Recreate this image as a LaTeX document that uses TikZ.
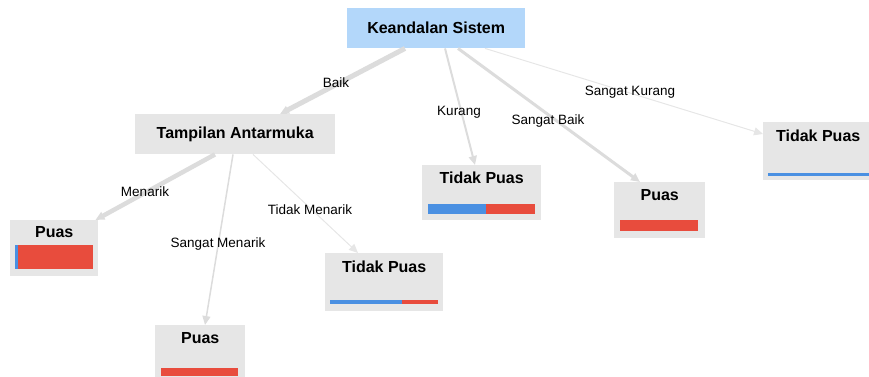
\documentclass[tikz,border=0pt]{standalone}
\usepackage{fontspec}
\setmainfont{Liberation Sans}
\usetikzlibrary{arrows.meta,calc}
\definecolor{rootblue}{HTML}{B3D7FA}
\definecolor{boxgray}{HTML}{E6E6E6}
\definecolor{barblue}{HTML}{4A90E2}
\definecolor{barred}{HTML}{E84C3D}
\definecolor{edgegray}{HTML}{DCDCDC}
\definecolor{edgelight}{HTML}{E6E6E6}
\begin{document}
\begin{tikzpicture}[x=1pt,y=-1pt,
  box/.style={draw=none,fill=boxgray,minimum width=#1,inner sep=0pt,anchor=north west},
  title/.style={font=\bfseries\fontsize{16}{16}\selectfont,inner sep=0pt},
  elabel/.style={font=\fontsize{13.5}{13.5}\selectfont,inner sep=0pt},
  conn/.style={draw=edgegray,line width=#1,-{Triangle[length=9pt,width=8pt]},shorten >=0pt},
  lightconn/.style={conn=#1,draw=edgelight}]
\useasboundingbox (0,0) rectangle (869,376);
% nodes
\node[box=178,minimum height=40,fill=rootblue] (root) at (347,8) {};
\node[title] at (root.center) {Keandalan Sistem};
\node[box=200,minimum height=40] (tam) at (135,114) {};
\node[title] at (tam.center) {Tampilan Antarmuka};
\node[box=119,minimum height=55] (tp1) at (422,165) {};
\node[title] (tp1t) at ([yshift=-13]tp1.north) {Tidak Puas};
\node[box=91,minimum height=56] (p1) at (614,182) {};
\node[title] (p1t) at ([yshift=-13]p1.north) {Puas};
\node[box=110,minimum height=58] (tp2) at (763,122) {};
\node[title] (tp2t) at ([yshift=-14]tp2.north) {Tidak Puas};
\node[box=88,minimum height=56] (p2) at (10,220) {};
\node[title] (p2t) at ([yshift=-12]p2.north) {Puas};
\node[box=118,minimum height=58] (tp3) at (325,253) {};
\node[title] (tp3t) at ([yshift=-14]tp3.north) {Tidak Puas};
\node[box=90,minimum height=55] (p3) at (155,325) {};
\node[title] (p3t) at ([yshift=-13]p3.north) {Puas};
% bars
\fill[barblue] (428,204) rectangle (486,214);
\fill[barred] (486,204) rectangle (535,214);
\fill[barred] (620,220) rectangle (698,231);
\fill[barblue] (768,173) rectangle (869,176);
\fill[barblue] (15,245) rectangle (18,269);
\fill[barred] (18,245) rectangle (93,269);
\fill[barblue] (330,300) rectangle (402,304);
\fill[barred] (402,300) rectangle (438,304);
\fill[barred] (161,368) rectangle (238,376);
% connectors
\draw[conn=5pt] ([xshift=58]root.south west) -- ([xshift=145]tam.north west);
\draw[conn=2pt] ([xshift=98]root.south west) -- ([xshift=53]tp1.north west);
\draw[conn=3pt] ([xshift=111]root.south west) -- ([xshift=26]p1.north west);
\draw[lightconn=1pt] ([xshift=138]root.south west) -- ([yshift=-12]tp2.north west);
\draw[conn=4.5pt] ([xshift=80]tam.south west) -- ([xshift=-3]p2.north east);
\draw[conn=1.5pt] ([xshift=98]tam.south west) -- ([xshift=50]p3.north west);
\draw[lightconn=1pt] ([xshift=118]tam.south west) -- ([xshift=33]tp3.north west);
% labels
\node[elabel] (l1) at (336,83) {Baik};
\node[elabel] (l2) at (459,112) {Kurang};
\node[elabel] (l3) at (548,121) {Sangat Baik};
\node[elabel] (l4) at (630,92) {Sangat Kurang};
\node[elabel] (l5) at (145,192) {Menarik};
\node[elabel] (l6) at (218,244) {Sangat Menarik};
\node[elabel] (l7) at (310,210) {Tidak Menarik};
\end{tikzpicture}
\end{document}
